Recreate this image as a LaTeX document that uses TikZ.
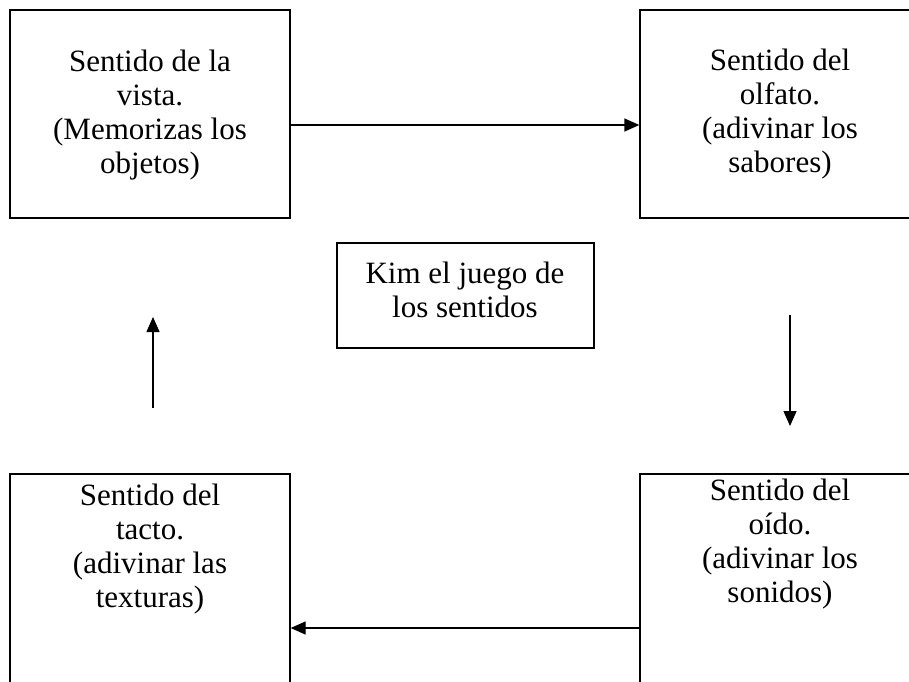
\documentclass[tikz,border=0pt]{standalone}
\usepackage{fontspec}
\setmainfont{Liberation Serif}
\usetikzlibrary{arrows.meta}
\begin{document}
\begin{tikzpicture}[x=1pt,y=-1pt,
  box/.style={draw=black,line width=1.3pt,rectangle,inner sep=0pt,minimum width=280pt,minimum height=208pt},
  lowbox/.style={box,minimum height=230pt},
  txt/.style={anchor=north,align=center,inner sep=0pt,font=\fontsize{31}{34}\selectfont},
  flow/.style={line width=1.3pt,-{Triangle[length=15pt,width=13pt]}}]
\useasboundingbox (0,0) rectangle (909,681);
\clip (0,0) rectangle (909,681);
\fill[white] (0,0) rectangle (909,681);
% boxes
\node[box] (vista) at (150,114) {};
\node[box] (olfato) at (780,114) {};
\node[lowbox] (tacto) at (150,589) {};
\node[lowbox] (oido) at (780,589) {};
\node[draw=black,line width=1.3pt,rectangle,inner sep=0pt,minimum width=257pt,minimum height=105pt] (kim) at (465.5,295.5) {};
% texts
\node[txt] (tvista) at (150,47.2) {\strut Sentido de la\\vista.\\(Memorizas los\\objetos)};
\node[txt] (tolfato) at (780,46.2) {\strut Sentido del\\olfato.\\(adivinar los\\sabores)};
\node[txt] (ttacto) at (150,481.2) {\strut Sentido del\\tacto.\\(adivinar las\\texturas)};
\node[txt] (toido) at (780,476.2) {\strut Sentido del\\oído.\\(adivinar los\\sonidos)};
\node[txt] (tkim) at (465,259.2) {\strut Kim el juego de\\los sentidos};
% connectors
\draw[flow] (vista.east |- 0,125) -- (olfato.west |- 0,125);
\draw[flow] (oido.west |- 0,628) -- (tacto.east |- 0,628);
\coordinate (upS) at (153,408);
\coordinate (upE) at (153,317);
\coordinate (dnS) at (790,315);
\coordinate (dnE) at (790,426);
\draw[flow] (upS) -- (upE);
\draw[flow] (dnS) -- (dnE);
\end{tikzpicture}
\end{document}
